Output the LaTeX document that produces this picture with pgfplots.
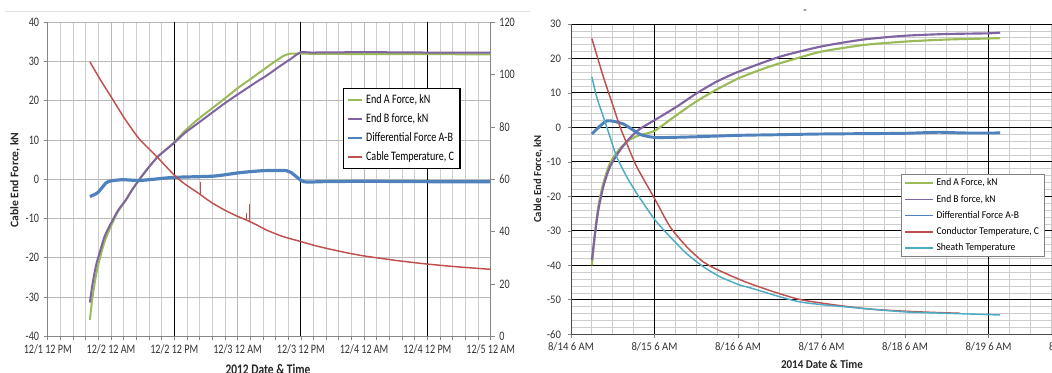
\documentclass[border=0pt]{standalone}
\usepackage{fontspec}
\setmainfont{Carlito}
\newfontfamily\lf[FakeStretch=0.78]{Carlito}
\newfontfamily\rf[FakeStretch=0.92]{Carlito}
\usepackage{pgfplots}
\pgfplotsset{compat=1.18}
\definecolor{cA}{RGB}{155,187,89}
\definecolor{cB}{RGB}{128,100,162}
\definecolor{cD}{RGB}{79,129,189}
\definecolor{cT}{RGB}{192,80,77}
\definecolor{cS}{RGB}{75,172,198}
\definecolor{gridg}{RGB}{185,185,185}
\definecolor{gridl}{RGB}{205,205,205}
\definecolor{axg}{RGB}{134,134,134}
\begin{document}
\begin{tikzpicture}
\useasboundingbox (0,0) rectangle (789pt,279pt);
\clip (0,0) rectangle (789pt,279pt);
% ---------------- left panel ----------------
\begin{axis}[
  at={(35.775pt,26.775pt)}, anchor=south west, scale only axis,
  width=332.25pt, height=235.5pt,
  xmin=0, xmax=84, ymin=-40, ymax=40,
  xtick={0,12,24,36,48,60,72,84},
  xticklabels={12/1 12 PM,12/2 12 AM,12/2 12 PM,12/3 12 AM,12/3 12 PM,12/4 12 AM,12/4 12 PM,12/5 12 AM},
  minor xtick={2.4,4.8,7.2,9.6,14.4,16.8,19.2,21.6,26.4,28.8,31.2,33.6,38.4,40.8,43.2,45.6,50.4,52.8,55.2,57.6,62.4,64.8,67.2,69.6,74.4,76.8,79.2,81.6},
  ytick={-40,-30,-20,-10,0,10,20,30,40},
  yticklabels={-40,-30,-20,-10,0,10,20,30,40},
  axis x line*=bottom, axis y line*=left,
  axis line style={axg, line width=0.6pt},
  tick style={axg, line width=0.5pt},
  tick align=outside, major tick length=3pt, minor tick length=2.5pt,
  grid=both,
  major grid style={gridg, line width=0.6pt},
  minor grid style={gridl, line width=0.5pt},
  extra x ticks={24,48,72}, extra x tick labels={},
  extra x tick style={grid=major, major grid style={black, line width=0.8pt}},
  tick label style={font=\fontsize{9.7}{11}\lf, text=black!80},
  legend style={at={(0.667,0.790)}, anchor=north west, draw=black, line width=0.8pt,
    fill=white, font=\fontsize{9.7}{11}\lf, inner xsep=2.5pt, inner ysep=2pt,
    row sep=2.2pt, cells={anchor=west}},
  legend image code/.code={\path (0pt,0pt) -- (4pt,0pt); \draw[#1] (4pt,0pt) -- (10.5pt,0pt);},
]
\addplot[cA, line width=1.5pt, smooth, tension=0.35, forget plot] coordinates {
(8.0,-35.8) (8.4,-31) (8.9,-26.5) (9.3,-23.5) (9.8,-20.6) (10.8,-15.8) (12,-11.9)
(13.3,-8.3) (14.8,-5.3) (16,-2.7) (17.3,-0.2) (19,2.8) (20.9,5.8) (22.5,7.7) (24,9.5)
(26,12.3) (28.5,15.3) (31,17.9) (33.5,20.5) (36,23.2) (38,25.1) (41.6,28.6) (43.5,30.4)
(44.8,31.5) (46,32.0) (48,32.0) (60,31.9) (72,31.9) (84,31.8)};
\addplot[cB, line width=1.5pt, smooth, tension=0.35, forget plot] coordinates {
(8.0,-31.4) (8.4,-27.5) (8.85,-24) (9.3,-21.2) (9.8,-18.9) (10.8,-14.5) (12,-11.2)
(13.3,-8) (14.8,-5.3) (16,-2.7) (17.3,-0.2) (19,2.8) (20.9,5.8) (22.5,7.6) (24,9.3)
(26,11.8) (28.5,14.3) (31,16.8) (33.5,19.3) (36,21.6) (39.7,24.9) (41.6,26.5) (44,28.8)
(46,30.6) (48,32.4) (50,32.3) (60,32.4) (72,32.3) (84,32.3)};
\addplot[cD, line width=2.4pt, smooth, tension=0.35, forget plot] coordinates {
(8,-4.4) (9.5,-3.4) (11,-1.0) (12,-0.4) (14.2,-0.1) (17.3,-0.3) (20,0.0) (24,0.5)
(31.4,0.8) (36.5,1.7) (40.9,2.2) (45.3,2.2) (46.2,1.7) (48.5,-0.6) (52,-0.6) (60,-0.5)
(72,-0.6) (84,-0.6)};
\addlegendimage{cA, line width=1.6pt}
\addlegendentry{End A Force, kN}
\addlegendimage{cB, line width=1.6pt}
\addlegendentry{End B force, kN}
\addlegendimage{cD, line width=1.8pt}
\addlegendentry{Differential Force A-B}
\addlegendimage{cT, line width=1.6pt}
\addlegendentry{Cable Temperature, C}
\end{axis}
\begin{axis}[
  at={(35.775pt,26.775pt)}, anchor=south west, scale only axis,
  width=332.25pt, height=235.5pt,
  xmin=0, xmax=84, ymin=0, ymax=120,
  axis x line=none, axis y line*=right,
  ytick={0,20,40,60,80,100,120},
  yticklabels={0,20,40,60,80,100,120},
  axis line style={axg, line width=0.6pt},
  tick style={axg, line width=0.5pt},
  tick align=outside, major tick length=3pt,
  tick label style={font=\fontsize{9.7}{11}\lf, text=black!80},
]
\addplot[cT, line width=1.1pt, smooth, tension=0.4] coordinates {
(8,104.9) (10,98) (12,91.6) (14.5,83.5) (17.3,75.6) (20.9,68.2) (24,61.6) (26,58.2)
(28.5,54.8) (31,51.2) (33.5,48.3) (35.5,46.3) (37.7,44.4) (39.7,42.5)
(41.5,40.6) (44.5,38.2) (48,36.2) (51,34.5) (54.2,33) (57,31.8) (60,30.7) (63.5,29.7)
(66.8,28.8) (72,27.6) (78,26.5) (84,25.6)};
\addplot[cT, line width=0.9pt] coordinates {(29.0,54.2) (29.0,58.9)};
\addplot[cT, line width=0.9pt] coordinates {(37.7,44.4) (37.7,47.0)};
\addplot[cT, line width=0.9pt] coordinates {(38.3,43.8) (38.3,50.6)};
\end{axis}
% ---------------- right panel ----------------
\begin{axis}[
  at={(428.25pt,28.275pt)}, anchor=south west, scale only axis,
  width=375.75pt, height=232.725pt,
  xmin=0, xmax=6, ymin=-60, ymax=30,
  xtick={0,1,2,3,4,5,6},
  xticklabels={8/14 6 AM,8/15 6 AM,8/16 6 AM,8/17 6 AM,8/18 6 AM,8/19 6 AM,8/20 6 AM},
  minor xtick={0,0.25,0.5,0.75,1,1.25,1.5,1.75,2,2.25,2.5,2.75,3,3.25,3.5,3.75,4,4.25,4.5,4.75,5,5.25,5.5,5.75,6},
  ytick={-60,-50,-40,-30,-20,-10,0,10,20,30},
  yticklabels={-60,-50,-40,-30,-20,-10,0,10,20,30},
  minor y tick num=4,
  axis x line*=bottom, axis y line*=left,
  axis line style={black!70, line width=0.7pt},
  tick style={axg, line width=0.5pt},
  tick align=outside, major tick length=2.5pt, minor tick length=0pt,
  xmajorgrids=false, xminorgrids=true, ymajorgrids=true, yminorgrids=true,
  major grid style={black, line width=0.75pt},
  minor grid style={gridl, line width=0.6pt},
  extra x ticks={1,5}, extra x tick labels={},
  extra x tick style={grid=major},
  tick label style={font=\fontsize{8.7}{10}\rf, text=black!80},
  yticklabel style={xshift=-1.5pt},
  legend style={at={(0.659,0.5156)}, anchor=north west, draw=black!50, line width=0.5pt,
    fill=white, font=\fontsize{7.8}{9}\rf, inner xsep=2pt, inner ysep=1pt,
    row sep=1.2pt, cells={anchor=west}},
  legend image code/.code={\path (0pt,0pt) -- (9pt,0pt); \draw[#1] (9pt,0pt) -- (21pt,0pt);},
]
\addplot[cA, line width=1.6pt, smooth, tension=0.4, forget plot] coordinates {
(0.25,-40) (0.287,-31) (0.327,-23) (0.387,-16.2) (0.467,-10.4) (0.587,-6.1) (0.707,-3.5)
(0.826,-2.2) (1.0,-1.0) (1.265,3.6) (1.505,7.6) (1.745,11.0) (2.01,14.3) (2.3,17.0)
(2.5,18.6) (2.7,20.0) (3.0,22.0) (3.5,23.9) (4.0,24.9) (4.5,25.5) (5.0,25.8) (5.14,25.9)};
\addplot[cB, line width=1.6pt, smooth, tension=0.4, forget plot] coordinates {
(0.25,-38.5) (0.287,-30.8) (0.327,-24) (0.387,-17.2) (0.467,-11.4) (0.587,-6.6) (0.707,-3.0)
(0.826,-0.4) (1.0,2.1) (1.265,6.0) (1.505,9.9) (1.745,13.3) (2.01,16.2) (2.5,20.5)
(3.0,23.5) (3.5,25.5) (4.0,26.6) (4.5,27.1) (5.0,27.3) (5.14,27.5)};
\addplot[cD, line width=2.2pt, smooth, tension=0.4, forget plot] coordinates {
(0.25,-1.9) (0.347,0.4) (0.427,1.9) (0.507,1.8) (0.627,1.0) (0.747,-0.8) (0.846,-2.2)
(0.998,-2.9) (1.19,-2.9) (1.5,-2.7) (2.0,-2.3) (2.5,-2.1) (3.0,-1.9) (3.5,-1.8) (4.0,-1.7)
(4.4,-1.4) (4.7,-1.6) (5.14,-1.6)};
\addplot[cT, line width=1.1pt, smooth, tension=0.4, forget plot] coordinates {
(0.25,25.8) (0.387,14.7) (0.507,6) (0.587,0.2) (0.667,-4.6) (0.787,-11.4) (0.998,-20.5)
(1.186,-28.8) (1.385,-34.6) (1.585,-39) (1.784,-41.6) (2.144,-45.3) (2.74,-49.9)
(3.5,-52.5) (4.0,-53.3) (4.4,-53.7) (4.66,-53.9)};
\addplot[cS, line width=1.1pt, smooth, tension=0.4, forget plot] coordinates {
(0.25,14.7) (0.307,8.9) (0.387,3.1) (0.467,-2.7) (0.547,-8.5) (0.667,-14.3) (0.787,-19.1)
(0.998,-26.6) (1.186,-31.7) (1.385,-36.6) (1.585,-40.4) (1.784,-43.3) (2.02,-45.7)
(2.144,-46.5) (2.74,-50.6) (3.5,-52.5) (4.0,-53.5) (4.5,-53.9) (5.14,-54.4)};
\addlegendimage{cA, line width=1.3pt}
\addlegendentry{End A Force, kN}
\addlegendimage{cB, line width=1.3pt}
\addlegendentry{End B force, kN}
\addlegendimage{cD, line width=1.3pt}
\addlegendentry{Differential Force A-B}
\addlegendimage{cT, line width=1.3pt}
\addlegendentry{Conductor Temperature, C}
\addlegendimage{cS, line width=1.3pt}
\addlegendentry{Sheath Temperature}
\end{axis}
% ---------------- titles ----------------
\draw[black!12, line width=0.8pt] (3.75pt,270.2pt) -- (397.5pt,270.2pt);
\node[rotate=90, font=\fontsize{8.7}{10}\selectfont\bfseries, text=black!85] at (11.25pt,144pt) {Cable End Force, kN};
\node[anchor=base, font=\fontsize{11}{12}\lf\bfseries, text=black!85] at (201pt,-1.9pt) {2012 Date \& Time};
\node[rotate=90, font=\fontsize{8}{9}\selectfont\bfseries, text=black!85] at (403.5pt,144.75pt) {Cable End Force, kN};
\node[anchor=base, font=\fontsize{9}{10}\rf\bfseries, text=black!85] at (616.5pt,3pt) {2014 Date \& Time};
\node[font=\fontsize{8}{9}\selectfont] at (603.75pt,270pt) {-};
\end{tikzpicture}
\end{document}
